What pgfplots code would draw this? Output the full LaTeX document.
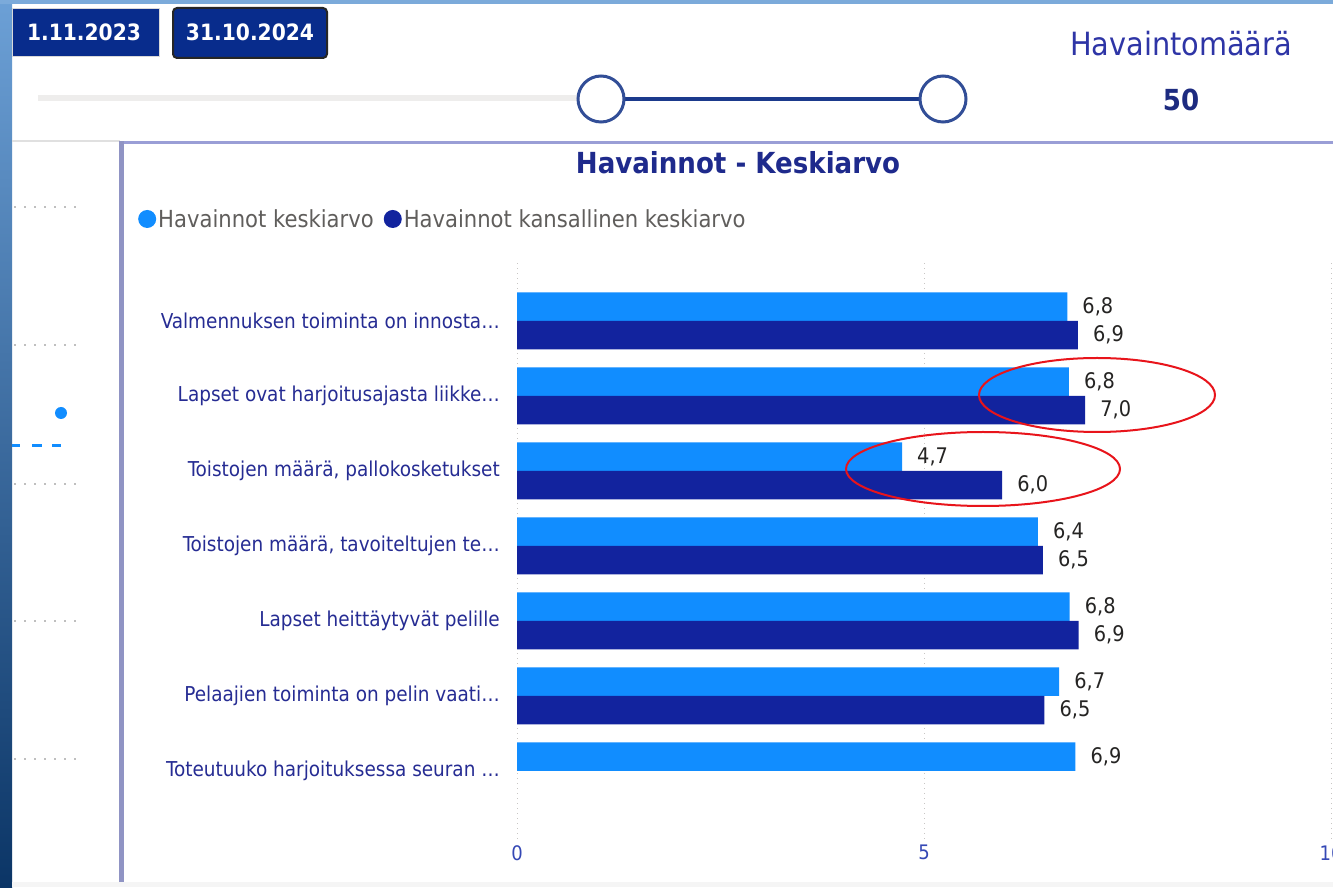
\documentclass[border=0pt]{standalone}
\usepackage{pgfplots}
\pgfplotsset{compat=1.18}
\usepackage{fontspec}
\setmainfont{DejaVu Sans Condensed}
\definecolor{lightbar}{HTML}{118DFF}
\definecolor{darkbar}{HTML}{12239E}
\definecolor{titlecol}{HTML}{1E2A8C}
\definecolor{catcol}{HTML}{262C93}
\definecolor{legcol}{HTML}{605E5C}
\definecolor{valcol}{HTML}{252423}
\definecolor{tickcol}{HTML}{3548B5}
\definecolor{gridc}{HTML}{C8C6C4}
\definecolor{panelc}{HTML}{9A9ED6}
\definecolor{datebox}{HTML}{082C8C}
\definecolor{slidec}{HTML}{1B3A8C}
\definecolor{trackc}{HTML}{EEEDEC}
\definecolor{countcol}{HTML}{2E35A6}
\definecolor{numcol}{HTML}{1D2B80}
\definecolor{bgtop}{HTML}{6CA0D6}
\definecolor{bgbot}{HTML}{0B3566}
\definecolor{annot}{HTML}{E8141B}
\newcommand{\catfont}{\fontsize{20.5}{24}\selectfont}
\newcommand{\valfont}{\fontsize{21.5}{24}\selectfont}

\pgfplotstableread{
y  v
0  6.76
1  6.78
2  4.73
3  6.40
4  6.79
5  6.66
6  6.86
}\lighttable
\pgfplotstableread{
y  v
0  6.89
1  6.98
2  5.96
3  6.46
4  6.90
5  6.48
}\darktable

\begin{document}
\begin{tikzpicture}[x=1pt,y=1pt]
\path[use as bounding box] (0,0) rectangle (1333,887);
\clip (0,0) rectangle (1333,887);
\fill[white] (0,0) rectangle (1333,887);
% background image strips
\shade[top color=bgtop, bottom color=bgbot] (0,0) rectangle (12,887);
\fill[bgtop!90!white] (0,883) rectangle (1333,887);
\fill[black!4] (12,0) rectangle (1333,5);
% date boxes
\fill[datebox, draw=black!15, line width=1pt] (12,830) rectangle (159,878);
\node[text=white, font=\fontsize{22.5}{26}\selectfont\bfseries] at (84,855) {1.11.2023};
\fill[datebox, draw=black!85, line width=2pt, rounded corners=4pt] (173,829) rectangle (327,879);
\node[text=white, font=\fontsize{22.5}{26}\selectfont\bfseries] at (250,855) {31.10.2024};
% slider
\draw[trackc, line width=6pt] (38,789) -- (600,789);
\draw[slidec, line width=4pt] (601,788) -- (943,788);
\draw[slidec!90!white, line width=3pt, fill=white] (601,788) circle (23);
\draw[slidec!90!white, line width=3pt, fill=white] (943,788) circle (23);
% count card
\node[text=countcol, font=\fontsize{32}{36}\selectfont] at (1181,843) {Havaintomäärä};
\node[text=numcol, font=\fontsize{29}{32}\selectfont\bfseries] at (1181,787) {50};
% panel borders
\draw[black!12, line width=2pt] (12,746) -- (120,746);
\draw[panelc, line width=3pt] (121,744) -- (1333,744);
\fill[panelc!90!black!95] (119,5) rectangle (124,746);
% left panel decorations
\foreach \yy in {680,542,403,266,128}
  \draw[black!25, line width=1.5pt, dash pattern=on 1.5pt off 8.5pt] (14,\yy) -- (76,\yy);
\fill[lightbar] (61,474) circle (6);
\draw[lightbar, line width=3pt] (12,441) -- (20,441);
\draw[lightbar, line width=3pt] (32,441) -- (42,441);
\draw[lightbar, line width=3pt] (52,441) -- (61,441);
% title
\node[text=titlecol, font=\fontsize{29}{32}\selectfont\bfseries] at (738,724) {Havainnot - Keskiarvo};

\begin{axis}[
  at={(517pt,47pt)}, anchor=south west,
  scale only axis, width=814pt, height=577pt,
  xmin=0, xmax=10, ymin=-0.77, ymax=6.92, y dir=reverse,
  xbar, bar width=28.5pt,
  xtick={0,5,10}, ytick={0,1,2,3,4,5,6},
  yticklabels={Valmennuksen toiminta on innosta…,Lapset ovat harjoitusajasta liikke…,{Toistojen määrä, pallokosketukset},{Toistojen määrä, tavoiteltujen te…},Lapset heittäytyvät pelille,Pelaajien toiminta on pelin vaati…,Toteutuuko harjoituksessa seuran …},
  axis line style={draw=none}, major tick length=0pt,
  xmajorgrids, grid style={color=gridc, line width=1pt, dash pattern=on 1pt off 4pt},
  yticklabel style={font=\catfont, text=catcol, anchor=east, inner sep=0pt, xshift=-17pt},
  xticklabel style={font=\fontsize{20}{22}\selectfont, text=tickcol, inner sep=0pt, anchor=north, yshift=-5pt},
  /pgf/number format/assume math mode=true,
  point meta=x,
  nodes near coords,
  nodes near coords style={font=\valfont, text=valcol, anchor=west, inner sep=0pt, xshift=15pt,
    /pgf/number format/.cd, use comma, fixed, fixed zerofill, precision=1, assume math mode=true},
  legend columns=2,
  legend style={at={(-0.4656,1.0763)}, anchor=west, draw=none, fill=none, inner sep=0pt,
    font=\fontsize{23.5}{26}\selectfont, text=legcol, column sep=0pt,
    /tikz/every even column/.append style={column sep=8pt},
    nodes={inner sep=2pt}},
  legend cell align=left,
]
\addplot[fill=lightbar, draw=none, bar shift=14.25pt,
  legend image code/.code={\fill[lightbar] (9pt,0pt) circle (9pt);}]
  table[x=v, y=y] {\lighttable};
\addlegendentry{Havainnot keskiarvo}
\addplot[fill=darkbar, draw=none, bar shift=-14.25pt,
  legend image code/.code={\fill[darkbar] (9pt,0pt) circle (9pt);}]
  table[x=v, y=y] {\darktable};
\addlegendentry{Havainnot kansallinen keskiarvo}
\end{axis}
% annotations
\draw[annot, line width=2pt] (1097,492) ellipse (118 and 37);
\draw[annot, line width=2pt] (983,418) ellipse (137 and 37);
\end{tikzpicture}
\end{document}
